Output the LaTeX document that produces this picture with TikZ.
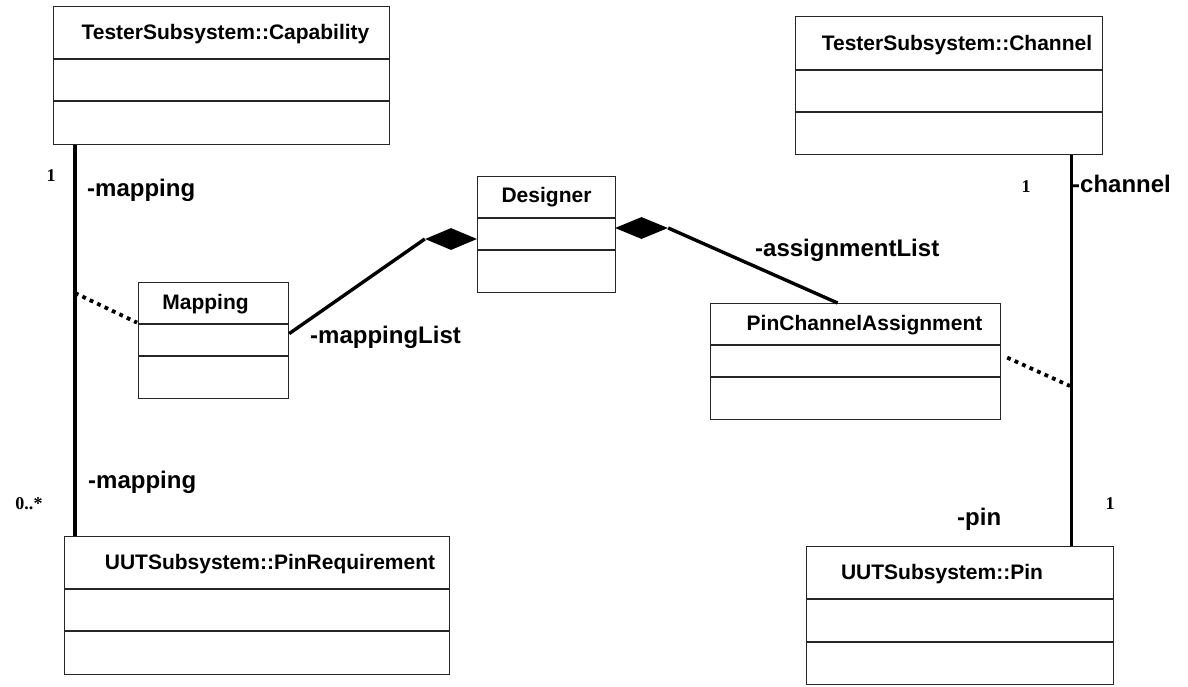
\documentclass[tikz,border=0pt]{standalone}
\usepackage{fontspec}
\setmainfont{Liberation Sans}
\newfontfamily\multfont{Liberation Serif}
\usetikzlibrary{shapes.geometric}

\tikzset{
  classbox/.style={draw=black!85, line width=1.2pt, fill=white, inner sep=0pt, anchor=north west},
  divider/.style={draw=black!85, line width=1.1pt},
  cname/.style={inner sep=0pt, anchor=base, font=\fontsize{21}{25}\selectfont\bfseries},
  role/.style={inner sep=0pt, anchor=base west, font=\fontsize{24}{28}\selectfont\bfseries},
  mult/.style={inner sep=0pt, anchor=base, font=\fontsize{18}{21}\selectfont\multfont\bfseries},
  assoc/.style={line width=3.4pt},
  assoclink/.style={line width=3.8pt, dash pattern=on 3.8pt off 4.4pt},
  compo/.style={shape=diamond, fill=black, draw=none, inner sep=0pt, minimum width=#1, minimum height=22pt},
}

\begin{document}
\begin{tikzpicture}[x=1pt, y=-1pt]
  \useasboundingbox (0,0) rectangle (1188,686);

  % ---- classes: box, compartment rules, name ----
  \node[classbox, minimum width=336pt, minimum height=138pt] (cap) at (53,6) {};
  \draw[divider] (53,59) -- (389,59) (53,101) -- (389,101);
  \node[cname] (capname) at (225.5,39) {TesterSubsystem::Capability};

  \node[classbox, minimum width=307pt, minimum height=138pt] (ch) at (795,16) {};
  \draw[divider] (795,70) -- (1102,70) (795,112) -- (1102,112);
  \node[cname] (chname) at (957,50) {TesterSubsystem::Channel};

  \node[classbox, minimum width=138pt, minimum height=116pt] (des) at (477,176) {};
  \draw[divider] (477,218) -- (615,218) (477,250) -- (615,250);
  \node[cname] (desname) at (546.5,202.5) {Designer};

  \node[classbox, minimum width=150pt, minimum height=116pt] (map) at (138,282) {};
  \draw[divider] (138,324) -- (288,324) (138,356) -- (288,356);
  \node[cname] (mapname) at (205.5,309.5) {Mapping};

  \node[classbox, minimum width=290pt, minimum height=116pt] (pca) at (710,303) {};
  \draw[divider] (710,345) -- (1000,345) (710,377) -- (1000,377);
  \node[cname] (pcaname) at (864.5,330) {PinChannelAssignment};

  \node[classbox, minimum width=385pt, minimum height=138pt] (preq) at (64,536) {};
  \draw[divider] (64,589) -- (449,589) (64,631) -- (449,631);
  \node[cname] (preqname) at (270,569.5) {UUTSubsystem::PinRequirement};

  \node[classbox, minimum width=307pt, minimum height=138pt] (pin) at (806,546) {};
  \draw[divider] (806,599) -- (1113,599) (806,642) -- (1113,642);
  \node[cname] (pinname) at (942,579) {UUTSubsystem::Pin};

  % ---- composition diamonds at Designer ----
  \node[compo=52pt] (dmap) at (451,239) {};
  \node[compo=53pt] (dpca) at (641.5,228) {};

  % ---- associations ----
  \draw[assoc] ([xshift=22pt]cap.south west) -- ([xshift=11pt]preq.north west);
  \draw[assoc] ([xshift=-32pt]ch.south east) -- ([xshift=-43pt]pin.north east);
  \draw[assoc] ([yshift=7pt]map.east) -- (dmap.west);
  \draw[assoc] (dpca.east) -- ([xshift=-18pt]pca.north);

  % ---- association class links ----
  \coordinate (capLink) at (75,293);
  \coordinate (chLink) at (1070,386);
  \draw[assoclink] (capLink) -- ([xshift=-1pt,yshift=18pt]map.west);
  \draw[assoclink] ([xshift=6pt,yshift=4pt]pca.east) -- (chLink);

  % ---- role names ----
  \node[role] (r1) at (87,196) {-mapping};
  \node[role] (r2) at (88,488) {-mapping};
  \node[role] (r3) at (310,343) {-mappingList};
  \node[role] (r4) at (755,256) {-assignmentList};
  \node[role] (r5) at (1072,192) {-channel};
  \node[role] (r6) at (957,525) {-pin};

  % ---- multiplicities ----
  \node[mult] (m1) at (51,181) {1};
  \node[mult] (m2) at (29,509) {0..*};
  \node[mult] (m3) at (1026,192) {1};
  \node[mult] (m4) at (1110,509) {1};
\end{tikzpicture}
\end{document}
